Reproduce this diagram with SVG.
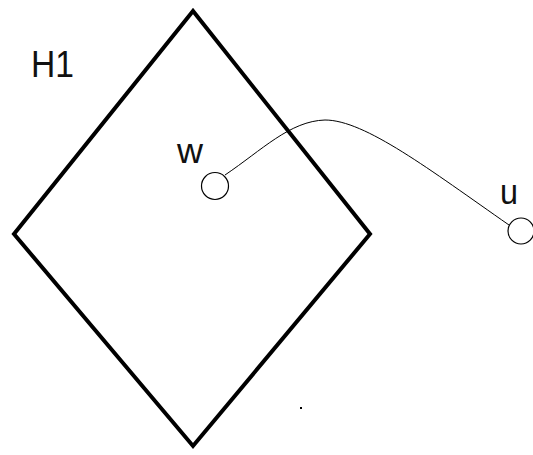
<svg xmlns="http://www.w3.org/2000/svg" width="533" height="455" viewBox="0 0 533 455">
<style>
.lbl{font-family:"Liberation Sans",Arial,sans-serif;fill:#111;}
.node{fill:#fff;stroke:#000;stroke-width:1.2;}
.conn{fill:none;stroke:#000;stroke-width:1;}
</style>
<rect width="533" height="455" fill="#fff"/>
<g id="H1">
<polygon points="193,11 14,234 193,446 370,234" fill="none" stroke="#000" stroke-width="4" stroke-linejoin="miter"/>
<text class="lbl" x="31" y="77" font-size="37" textLength="43" lengthAdjust="spacingAndGlyphs">H1</text>
</g>
<g id="connectors">
<path class="conn" d="M225,175 C262,150 290,121 325,120 C365,120 430,170 509,225"/>
</g>
<g id="w">
<circle class="node" cx="215" cy="186" r="13.5"/>
<text class="lbl" x="177" y="163" font-size="35" textLength="26" lengthAdjust="spacingAndGlyphs">w</text>
</g>
<g id="u">
<circle class="node" cx="521" cy="231" r="13"/>
<text class="lbl" x="500" y="204" font-size="35" textLength="18" lengthAdjust="spacingAndGlyphs">u</text>
</g>
<rect x="300" y="407" width="2" height="2" fill="#000"/>
</svg>
